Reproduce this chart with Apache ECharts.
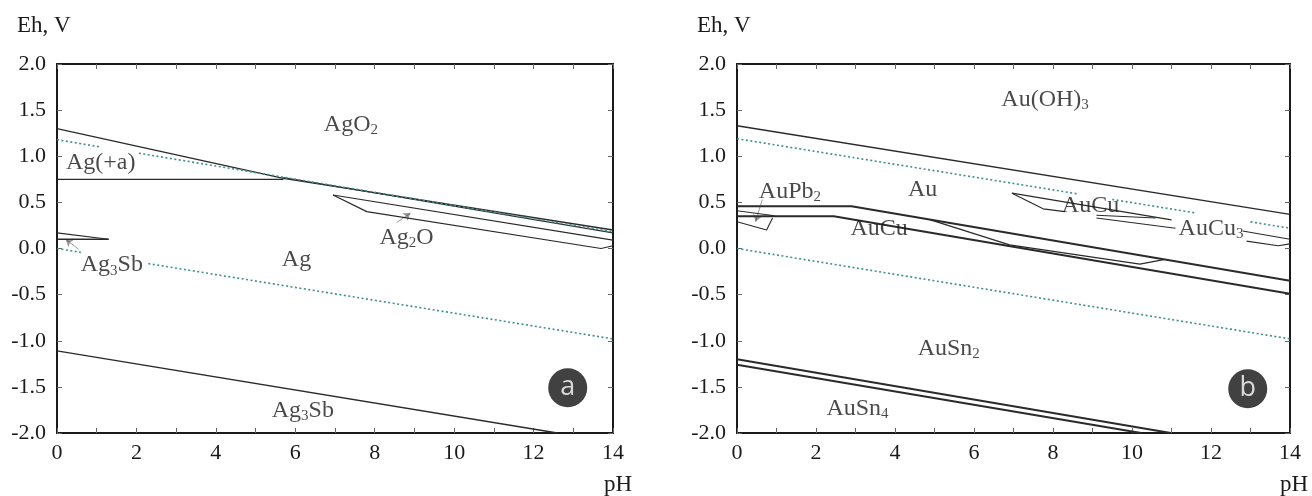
<!DOCTYPE html>
<html><head><meta charset="utf-8">
<script src="https://cdn.jsdelivr.net/npm/echarts@6/dist/echarts.min.js"></script>
<style>html,body{margin:0;padding:0;background:#fff}#c{width:1312px;height:496px}</style>
</head><body><div id="c"></div>
<script>
// ---------------- data ----------------
// axis settings
const phRange = [0, 14];
const ehRange = [-2, 2];
const phStep = 1;      // minor ticks every 1 pH, labels every 2
const ehStep = 0.5;

// ---- panel a (Ag–Sb) boundaries: [pH, Eh] ----
const agO2Boundary   = [[0, 1.30], [5.7, 0.76], [14, 0.20]];
const agO2Boundary2  = [[5.7, 0.77], [14, 0.17]];
const agPlusA        = [[0, 0.75], [5.7, 0.75]];
const ag2OUpper      = [[6.95, 0.58], [14, 0.09]];
const ag2OLower      = [[6.95, 0.58], [7.8, 0.40], [13.7, 0.0], [14, 0.03]];
const ag3SbWedgeTop  = [[0, 0.17], [1.3, 0.10]];
const ag3SbWedgeBase = [[0, 0.10], [1.3, 0.10]];
const agAg3SbLower   = [[0, -1.11], [12.6, -2.0]];
const waterUpperA1   = [[0, 1.18], [1.1, 1.10]];
const waterUpperA2   = [[2.06, 1.033], [14, 0.18]];
const waterLowerA1   = [[0, 0.0], [0.6, -0.042]];
const waterLowerA2   = [[2.3, -0.164], [14, -0.98]];
const arrowsA = [
  [[8.55, 0.28], [8.9, 0.385]],
  [[0.55, -0.01], [0.22, 0.10]]
];
const labelsA = [
  {name: 'AgO{s|2}', value: [7.4, 1.34]},
  {name: 'Ag(+a)', value: [1.1, 0.93]},
  {name: 'Ag{s|2}O', value: [8.8, 0.12]},
  {name: 'Ag', value: [6.03, -0.125]},
  {name: 'Ag{s|3}Sb', value: [1.38, -0.18]},
  {name: 'Ag{s|3}Sb', value: [6.19, -1.76]}
];
const badgeA = [{name: 'a', value: [12.86, -1.51]}];

// ---- panel b (Au–Cu–Pb–Sn) boundaries ----
const auOHBoundary   = [[0, 1.33], [14, 0.37]];
const auLineU        = [[0, 0.457], [2.9, 0.457], [14, -0.35]];
const auLineM        = [[0, 0.35], [2.45, 0.35], [14, -0.49]];
const auCuSliver     = [[4.9, 0.31], [6.9, 0.04], [10.2, -0.17], [10.8, -0.12]];
const auPb2WedgeA    = [[0, 0.41], [0.95, 0.355]];
const auPb2WedgeB    = [[0, 0.29], [0.75, 0.20], [0.9, 0.33]];
const auCuUpperA     = [[6.96, 0.60], [11.0, 0.31]];
const auCuUpperB     = [[6.96, 0.60], [7.75, 0.43], [8.3, 0.40]];
const auCu3A         = [[9.1, 0.36], [10.6, 0.33]];
const auCu3B         = [[9.1, 0.33], [11.1, 0.22]];
const auCu3RightA    = [[12.8, 0.19], [14, 0.10]];
const auCu3RightB    = [[12.9, 0.08], [13.7, 0.03], [14, 0.05]];
const auSnUpper      = [[0, -1.20], [10.98, -2.0]];
const auSnLower      = [[0, -1.26], [10.23, -2.0]];
const waterUpperB1   = [[0, 1.19], [8.6, 0.594]];
const waterUpperB2   = [[9.5, 0.532], [11.6, 0.386]];
const waterUpperB3   = [[13.0, 0.289], [14, 0.22]];
const waterLowerB    = [[0, 0.0], [14, -0.98]];
const arrowsB = [
  [[0.64, 0.53], [0.47, 0.29]]
];
const labelsB = [
  {name: 'Au(OH){s|3}', value: [7.8, 1.61]},
  {name: 'Au', value: [4.7, 0.64]},
  {name: 'AuPb{s|2}', value: [1.34, 0.62]},
  {name: 'AuCu', value: [3.6, 0.21]},
  {name: 'AuCu', value: [8.95, 0.46]},
  {name: 'AuCu{s|3}', value: [12.0, 0.22]},
  {name: 'AuSn{s|2}', value: [5.36, -1.09]},
  {name: 'AuSn{s|4}', value: [3.05, -1.74]}
];
const badgeB = [{name: 'b', value: [12.93, -1.52]}];

// ---------------- chart ----------------
const SERIF = '"Liberation Serif", "Times New Roman", serif';
const INK = '#1a1a1a';

function xAxes(gi) {
  const base = {
    gridIndex: gi, type: 'value', min: phRange[0], max: phRange[1], interval: phStep,
    axisLine: {show: true, onZero: false, lineStyle: {color: INK, width: 2}},
    axisTick: {show: true, inside: true, length: 5, lineStyle: {color: '#666', width: 1}},
    splitLine: {show: false}
  };
  return [
    Object.assign({}, base, {position: 'bottom',
      axisLabel: {show: true, margin: 9, fontFamily: SERIF, fontSize: 22, color: INK,
        formatter: v => (v % 2 === 0 ? String(v) : '')}}),
    Object.assign({}, base, {position: 'top', axisLabel: {show: false}})
  ];
}
function yAxes(gi) {
  const base = {
    gridIndex: gi, type: 'value', min: ehRange[0], max: ehRange[1], interval: ehStep,
    axisLine: {show: true, onZero: false, lineStyle: {color: INK, width: 2}},
    axisTick: {show: true, inside: true, length: 5, lineStyle: {color: '#666', width: 1}},
    splitLine: {show: false}
  };
  return [
    Object.assign({}, base, {position: 'left',
      axisLabel: {show: true, margin: 11, fontFamily: SERIF, fontSize: 22, color: INK,
        formatter: v => v.toFixed(1)}}),
    Object.assign({}, base, {position: 'right', axisLabel: {show: false}})
  ];
}

function line(data, gi, opt) {
  opt = opt || {};
  return {
    type: 'line', xAxisIndex: gi * 2, yAxisIndex: gi * 2, data: data,
    symbol: 'none', showSymbol: false, silent: true, animation: false, z: 3,
    lineStyle: {color: opt.color || '#2a2a2a', width: opt.width || 1.3, type: opt.type || 'solid'}
  };
}
function dotted(data, gi) {
  return line(data, gi, {color: '#3f8f8f', width: 1.6, type: [2, 2.5]});
}
function arrows(list, gi) {
  return {
    type: 'lines', coordinateSystem: 'cartesian2d', xAxisIndex: gi * 2, yAxisIndex: gi * 2,
    data: list.map(c => ({coords: c})), symbol: ['none', 'arrow'], symbolSize: 7,
    lineStyle: {color: '#333', width: 1, curveness: 0}, silent: true, animation: false, z: 4
  };
}
function labels(list, gi) {
  return {
    type: 'scatter', xAxisIndex: gi * 2, yAxisIndex: gi * 2, data: list,
    symbolSize: 0, silent: true, animation: false, z: 6,
    label: {
      show: true, position: 'inside', formatter: p => p.name,
      fontFamily: SERIF, fontSize: 24, color: INK, lineHeight: 26,
      rich: {s: {fontFamily: SERIF, fontSize: 15, color: INK, verticalAlign: 'bottom', lineHeight: 20}}
    }
  };
}
function badge(list, gi) {
  return {
    type: 'scatter', xAxisIndex: gi * 2, yAxisIndex: gi * 2, data: list,
    symbol: 'circle', symbolSize: 39, itemStyle: {color: '#111'}, silent: true, animation: false, z: 6,
    label: {show: true, position: 'inside', formatter: p => p.name, color: '#fff',
      fontFamily: '"Open Sans", sans-serif', fontSize: 27}
  };
}

const series = [
  // panel a
  line(agO2Boundary, 0, {width: 1.4}),
  line(agO2Boundary2, 0, {width: 1.2}),
  line(agPlusA, 0, {width: 1.2}),
  line(ag2OUpper, 0, {width: 1.2}),
  line(ag2OLower, 0, {width: 1.2}),
  line(ag3SbWedgeTop, 0, {width: 1.2}),
  line(ag3SbWedgeBase, 0, {width: 1.4}),
  line(agAg3SbLower, 0, {width: 1.3}),
  dotted(waterUpperA1, 0), dotted(waterUpperA2, 0),
  dotted(waterLowerA1, 0), dotted(waterLowerA2, 0),
  arrows(arrowsA, 0),
  labels(labelsA, 0),
  badge(badgeA, 0),
  // panel b
  line(auOHBoundary, 1, {width: 1.5}),
  line(auLineU, 1, {width: 2}),
  line(auLineM, 1, {width: 2}),
  line(auCuSliver, 1, {width: 1.3}),
  line(auPb2WedgeA, 1, {width: 1.1}),
  line(auPb2WedgeB, 1, {width: 1.1}),
  line(auCuUpperA, 1, {width: 1.1}),
  line(auCuUpperB, 1, {width: 1.1}),
  line(auCu3A, 1, {width: 1.1}),
  line(auCu3B, 1, {width: 1.1}),
  line(auCu3RightA, 1, {width: 1.1}),
  line(auCu3RightB, 1, {width: 1.1}),
  line(auSnUpper, 1, {width: 2}),
  line(auSnLower, 1, {width: 2}),
  dotted(waterUpperB1, 1), dotted(waterUpperB2, 1), dotted(waterUpperB3, 1),
  dotted(waterLowerB, 1),
  arrows(arrowsB, 1),
  labels(labelsB, 1),
  badge(badgeB, 1)
];

const chart = echarts.init(document.getElementById('c'), null, {renderer: 'canvas'});
chart.setOption({
  backgroundColor: '#fff',
  animation: false,
  grid: [
    {left: 57, right: 699, top: 64, bottom: 63},
    {left: 737, right: 22, top: 64, bottom: 63}
  ],
  xAxis: xAxes(0).concat(xAxes(1)),
  yAxis: yAxes(0).concat(yAxes(1)),
  graphic: [
    {type: 'text', left: 17, top: 14, style: {text: 'Eh, V', font: '23px "Liberation Serif"', fill: INK}},
    {type: 'text', left: 697, top: 14, style: {text: 'Eh, V', font: '23px "Liberation Serif"', fill: INK}},
    {type: 'text', x: 618, y: 485, style: {text: 'pH', font: '23px "Liberation Serif"', fill: INK, align: 'center', verticalAlign: 'middle'}},
    {type: 'text', x: 1294, y: 485, style: {text: 'pH', font: '23px "Liberation Serif"', fill: INK, align: 'center', verticalAlign: 'middle'}}
  ],
  series: series
});
</script>
</body></html>
